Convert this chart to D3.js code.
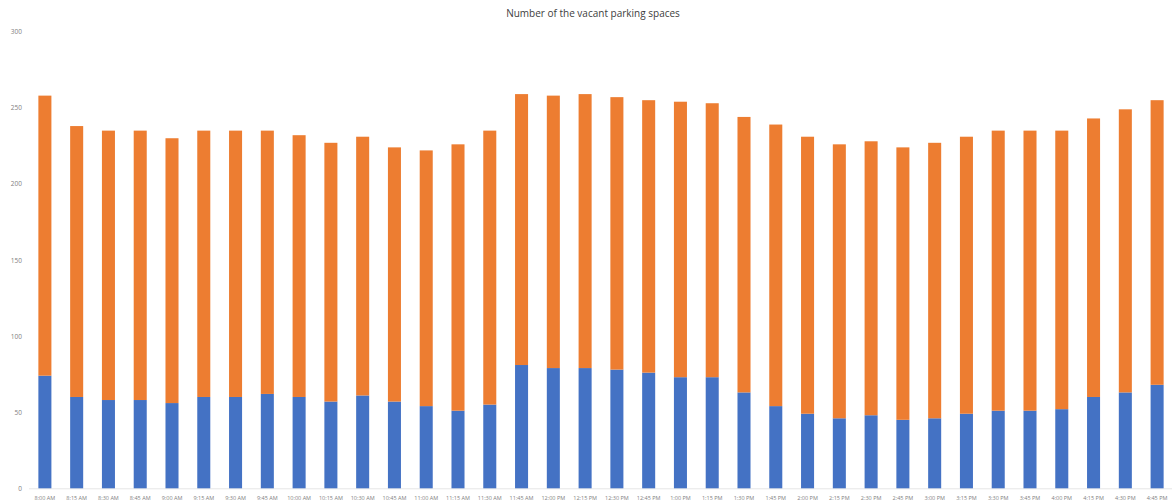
<!DOCTYPE html>
<html>
<head>
<meta charset="utf-8">
<script src="https://cdn.jsdelivr.net/npm/d3@7"></script>
<style>
  html, body { margin: 0; padding: 0; background: #fff; }
  svg { display: block; font-family: "Open Sans", "Liberation Sans", sans-serif; }
</style>
</head>
<body>
<svg id="chart" width="1172" height="502"></svg>
<script>
const categories = [
  "8:00 AM","8:15 AM","8:30 AM","8:45 AM","9:00 AM","9:15 AM","9:30 AM","9:45 AM",
  "10:00 AM","10:15 AM","10:30 AM","10:45 AM","11:00 AM","11:15 AM","11:30 AM","11:45 AM",
  "12:00 PM","12:15 PM","12:30 PM","12:45 PM","1:00 PM","1:15 PM","1:30 PM","1:45 PM",
  "2:00 PM","2:15 PM","2:30 PM","2:45 PM","3:00 PM","3:15 PM","3:30 PM","3:45 PM",
  "4:00 PM","4:15 PM","4:30 PM","4:45 PM"
];
const blueValues = [
  74, 60, 58, 58, 56, 60, 60, 62,
  60, 57, 61, 57, 54, 51, 55, 81,
  79, 79, 78, 76, 73, 73, 63, 54,
  49, 46, 48, 45, 46, 49, 51, 51,
  52, 60, 63, 68
];
const orangeValues = [
  184, 178, 177, 177, 174, 175, 175, 173,
  172, 170, 170, 167, 168, 175, 180, 178,
  179, 180, 179, 179, 181, 180, 181, 185,
  182, 180, 180, 179, 181, 182, 184, 184,
  183, 183, 186, 187
];
const yTicks = [0, 50, 100, 150, 200, 250, 300];
const titleText = "Number of the vacant parking spaces";

const svg = d3.select("#chart");
const plotTop = 31.7, plotBottom = 488.3;

const x = d3.scaleBand()
  .domain(categories)
  .range([29, 1173])
  .paddingInner(0.59)
  .paddingOuter(0.295);

const y = d3.scaleLinear().domain([0, 300]).range([plotBottom, plotTop]);

// title
svg.append("text")
  .attr("x", 593).attr("y", 17)
  .attr("text-anchor", "middle")
  .attr("font-size", 10)
  .attr("fill", "#404040")
  .text(titleText);

// y axis labels
const yAxis = d3.axisLeft(y).tickValues(yTicks).tickSize(0).tickPadding(0);
const yG = svg.append("g").attr("transform", "translate(22,0)").call(yAxis);
yG.select(".domain").remove();
yG.selectAll("text").attr("font-size", 6.5).attr("fill", "#7f7f7f")
  .attr("font-family", "'Open Sans', sans-serif");

// baseline
svg.append("line")
  .attr("x1", 29).attr("x2", 1172)
  .attr("y1", y(0) + 0.5).attr("y2", y(0) + 0.5)
  .attr("stroke", "#e6e6e6").attr("stroke-width", 1);

// stacked bars
const rows = categories.map((c, i) => ({ cat: c, blue: blueValues[i], orange: orangeValues[i] }));
const stack = d3.stack().keys(["blue", "orange"])(rows);
const colors = { blue: "#4472C4", orange: "#ED7D31" };

svg.append("g").selectAll("g")
  .data(stack).join("g")
  .attr("fill", d => colors[d.key])
  .selectAll("rect")
  .data(d => d).join("rect")
  .attr("x", d => x(d.data.cat))
  .attr("width", x.bandwidth())
  .attr("y", d => y(d[1]))
  .attr("height", d => y(d[0]) - y(d[1]));

// x axis labels
const xAxis = d3.axisBottom(x).tickSize(0).tickPadding(0);
const xG = svg.append("g").attr("transform", `translate(0,${plotBottom + 8})`).call(xAxis);
xG.select(".domain").remove();
xG.selectAll("text").attr("font-size", 5.5).attr("fill", "#7f7f7f")
  .attr("font-family", "'Open Sans', sans-serif");
</script>
</body>
</html>
